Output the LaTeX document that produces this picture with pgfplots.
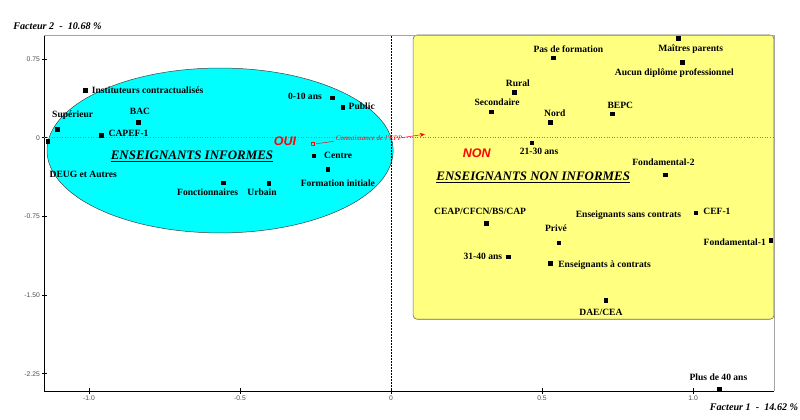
\documentclass[border=0pt]{standalone}
\usepackage{fontspec}
\setmainfont{Liberation Serif}
\newfontfamily\arial{Liberation Sans}
\usepackage{pgfplots}
\pgfplotsset{compat=1.18}
\usetikzlibrary{arrows.meta}

\definecolor{cyanfill}{RGB}{0,255,255}
\definecolor{yellowfill}{RGB}{255,255,128}
\definecolor{framegray}{RGB}{165,165,165}

\newcommand{\lab}{\fontsize{9.6}{11}\selectfont\bfseries}
\newcommand{\grp}{\fontsize{13}{15}\selectfont\bfseries\itshape}
\newcommand{\yesno}{\arial\fontsize{12.5}{14}\selectfont\bfseries\itshape}
\newcommand{\fac}{\fontsize{10.2}{12}\selectfont\bfseries\itshape}
\tikzset{lab/.style={font=\lab, inner sep=0pt}}

\begin{document}
\begin{tikzpicture}
\useasboundingbox (0,0) rectangle (800bp,420bp);
\begin{axis}[
    at={(44bp,29bp)}, anchor=south west,
    scale only axis, width=730bp, height=356bp,
    xmin=-1.149, xmax=1.268, ymin=-2.415, ymax=0.979,
    clip=false,
    axis x line*=bottom, axis y line*=left,
    axis line style={black, line width=0.9bp},
    xtick={-1,-0.5,0,0.5,1}, xticklabels={-1.0,-0.5,0,0.5,1.0},
    ytick={0.75,0,-0.75,-1.5,-2.25}, yticklabels={0.75,0,-0.75,-1.50,-2.25},
    tick align=center, major tick length=5bp,
    tick style={black, line width=0.5bp},
    ticklabel style={font=\arial\fontsize{6.8}{8}\selectfont, text=black!70},
    yticklabel style={inner sep=1.5bp},
    xticklabel style={inner sep=2.5bp},
]
% groups
\draw[fill=cyanfill, draw=black!75, line width=0.5bp]
    (axis cs:-0.566,-0.122) ellipse [x radius=0.573, y radius=0.786];
\draw[fill=yellowfill, draw=black!60, line width=0.6bp, rounded corners=4bp]
    (axis cs:0.073,0.979) rectangle (axis cs:1.268,-1.731);

% frame and origin lines
\draw[framegray, line width=0.8bp] (rel axis cs:0,1) -- (rel axis cs:1,1) -- (rel axis cs:1,0);
\draw[gray, dotted, line width=0.6bp] (axis cs:-1.149,0) -- (axis cs:1.268,0);
\draw[black, densely dotted, line width=0.5bp] (axis cs:0,-2.415) -- (axis cs:0,0.979);

% modalities
\addplot[only marks, mark=square*, mark size=1.9bp, black] table {
x y
-1.013 0.455
-1.105 0.080
-0.838 0.150
-0.960 0.026
-1.137 -0.031
-0.196 0.381
-0.160 0.290
-0.256 -0.172
-0.210 -0.298
-0.556 -0.429
-0.405 -0.432
0.536 0.763
0.950 0.950
0.964 0.722
0.407 0.436
0.332 0.248
0.527 0.150
0.732 0.229
0.466 -0.048
0.907 -0.353
0.315 -0.816
1.009 -0.715
0.555 -1.001
1.257 -0.975
0.388 -1.134
0.526 -1.197
0.711 -1.550
1.086 -2.393
};

% supplementary variable
\addplot[only marks, mark=square, mark size=1.6bp, red, line width=0.5bp]
    coordinates {(-0.258,-0.060)};
\draw[red, line width=0.5bp] (axis cs:-0.248,-0.058) -- (axis cs:-0.190,-0.035);
\draw[red, line width=0.5bp, -{Stealth[length=5bp,width=4bp]}]
    (axis cs:0.035,0.0) -- (axis cs:0.112,0.033);
\node[font=\fontsize{7}{8}\selectfont\itshape, text=red, inner sep=0pt]
    at (axis cs:-0.073,0.0) {Connaissance de l'EPP};

% labels
\node[lab] at (axis cs:-0.806,0.455) {Instituteurs contractualisés};
\node[lab] at (axis cs:-1.054,0.216) {Supérieur};
\node[lab] at (axis cs:-0.831,0.254) {BAC};
\node[lab] at (axis cs:-0.869,0.042) {CAPEF-1};
\node[lab] at (axis cs:-1.019,-0.349) {DEUG et Autres};
\node[lab] at (axis cs:-0.285,0.391) {0-10 ans};
\node[lab] at (axis cs:-0.097,0.302) {Public};
\node[lab] at (axis cs:-0.175,-0.165) {Centre};
\node[lab] at (axis cs:-0.176,-0.438) {Formation initiale};
\node[lab] at (axis cs:-0.607,-0.518) {Fonctionnaires};
\node[lab] at (axis cs:-0.427,-0.524) {Urbain};
\node[lab] at (axis cs:0.587,0.846) {Pas de formation};
\node[lab] at (axis cs:0.992,0.846) {Maîtres parents};
\node[lab] at (axis cs:0.938,0.614) {Aucun diplôme professionnel};
\node[lab] at (axis cs:0.420,0.519) {Rural};
\node[lab] at (axis cs:0.351,0.337) {Secondaire};
\node[lab] at (axis cs:0.542,0.229) {Nord};
\node[lab] at (axis cs:0.759,0.309) {BEPC};
\node[lab] at (axis cs:0.490,-0.133) {21-30 ans};
\node[lab] at (axis cs:0.902,-0.235) {Fondamental-2};
\node[lab] at (axis cs:0.295,-0.699) {CEAP/CFCN/BS/CAP};
\node[lab] at (axis cs:0.786,-0.740) {Enseignants sans contrats};
\node[lab] at (axis cs:1.079,-0.699) {CEF-1};
\node[lab] at (axis cs:0.546,-0.864) {Privé};
\node[lab] at (axis cs:1.138,-0.997) {Fondamental-1};
\node[lab] at (axis cs:0.304,-1.134) {31-40 ans};
\node[lab] at (axis cs:0.707,-1.214) {Enseignants à contrats};
\node[lab] at (axis cs:0.695,-1.662) {DAE/CEA};
\node[lab] at (axis cs:1.084,-2.288) {Plus de 40 ans};

% group names
\node[font=\yesno, text=red, inner sep=0pt] at (axis cs:-0.351,-0.029) {OUI};
\node[font=\yesno, text=red, inner sep=0pt] at (axis cs:0.284,-0.149) {NON};
\node[font=\grp, inner sep=0pt] at (axis cs:-0.659,-0.177) {\underline{ENSEIGNANTS INFORMES}};
\node[font=\grp, inner sep=0pt] at (axis cs:0.471,-0.378) {\underline{ENSEIGNANTS NON INFORMES}};
\end{axis}
\node[font=\fac, inner sep=0pt] at (57.5bp,394bp) {Facteur 2 \ - \ 10.68 \%};
\node[font=\fac, inner sep=0pt] at (754bp,12.5bp) {Facteur 1 \ - \ 14.62 \%};
\end{tikzpicture}
\end{document}
